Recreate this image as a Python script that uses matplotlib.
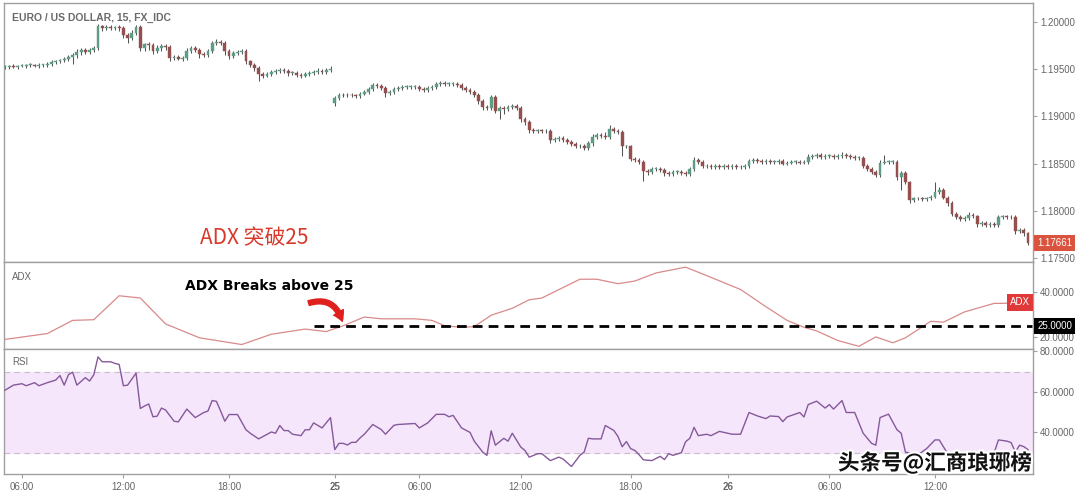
import numpy as np
import matplotlib.pyplot as plt
import matplotlib.transforms as mtrans
import matplotlib.patheffects as pe
from matplotlib.patches import FancyArrowPatch

plt.rcParams['font.family'] = ['Liberation Sans', 'Noto Sans CJK SC', 'DejaVu Sans']

# ---- EURUSD 15 min candles, prices in pips above 1.17000 ----
first_open = 252
gap_bar = 78          # weekly open gap (25th)
gap_open = 214
closes_pips = [
    252, 253, 252, 253, 253, 254, 254, 253, 254, 254,
    255, 257, 258, 259, 261, 263, 265, 268, 270, 268,
    270, 272, 295, 293, 294, 293, 294, 293, 286, 283,
    288, 294, 272, 276, 275, 269, 272, 274, 273, 262,
    263, 261, 262, 269, 272, 270, 266, 265, 269, 277,
    279, 278, 269, 264, 267, 268, 269, 258, 254, 251,
    245, 243, 245, 247, 248, 249, 248, 246, 246, 244,
    243, 245, 246, 247, 248, 247, 249, 250, 219, 223,
    222, 223, 222, 221, 224, 226, 229, 233, 232, 230,
    225, 226, 229, 230, 231, 231, 231, 231, 229, 228,
    230, 231, 234, 235, 234, 234, 234, 233, 230, 228,
    226, 223, 216, 210, 209, 220, 206, 209, 208, 210,
    211, 209, 197, 194, 185, 184, 185, 184, 184, 175,
    176, 177, 175, 173, 171, 168, 169, 166, 172, 178,
    180, 179, 178, 186, 184, 183, 168, 168, 155, 154,
    152, 142, 141, 144, 144, 143, 140, 139, 141, 141,
    140, 139, 144, 154, 152, 147, 147, 146, 147, 146,
    147, 146, 147, 146, 146, 147, 153, 154, 153, 152,
    153, 152, 152, 153, 150, 151, 152, 152, 151, 152,
    157, 158, 159, 157, 158, 158, 157, 158, 159, 158,
    157, 156, 156, 147, 144, 141, 138, 151, 152, 152,
    152, 136, 140, 130, 111, 113, 113, 112, 113, 115,
    120, 122, 114, 108, 97, 93, 91, 92, 96, 94,
    86, 87, 85, 86, 85, 93, 94, 93, 93, 79,
    80, 76, 66,
]
wick_hi = [
    2, 1, 2, 1, 2, 1, 2, 1, 2, 1,  2, 2, 1, 2, 2, 2, 2, 3, 2, 2,
    2, 2, 3, 2, 2, 2, 1, 2, 2, 2,  3, 3, 2, 2, 3, 2, 3, 2, 2, 2,
    2, 2, 2, 3, 2, 2, 2, 2, 2, 3,  3, 2, 2, 2, 2, 2, 2, 2, 2, 2,
    2, 2, 2, 2, 2, 2, 2, 2, 2, 2,  2, 2, 2, 2, 3, 2, 2, 3, 2, 2,
    2, 2, 2, 2, 2, 2, 2, 2, 2, 2,  2, 2, 2, 2, 2, 2, 2, 2, 2, 2,
    2, 2, 2, 2, 2, 2, 2, 2, 2, 2,  2, 2, 2, 2, 2, 3, 2, 2, 2, 2,
    2, 2, 2, 2, 2, 3, 2, 2, 2, 2,  2, 2, 2, 2, 2, 2, 2, 2, 2, 3,
    2, 2, 4, 5, 3, 2, 2, 2, 2, 2,  2, 2, 2, 2, 2, 2, 2, 2, 2, 2,
    2, 2, 2, 3, 2, 2, 2, 2, 2, 2,  2, 2, 2, 2, 2, 2, 2, 2, 2, 2,
    2, 2, 2, 2, 2, 2, 2, 2, 2, 2,  3, 2, 2, 2, 2, 2, 2, 2, 3, 2,
    2, 2, 2, 2, 2, 2, 2, 3, 7, 2,  2, 2, 2, 2, 2, 2, 2, 2, 2, 2,
    10, 3, 2, 2, 2, 2, 2, 2, 3, 2, 2, 2, 2, 2, 2, 3, 2, 2, 2, 2,
    2, 2, 2,
]
wick_lo = [
    2, 2, 1, 2, 1, 2, 2, 1, 2, 2,  2, 2, 2, 2, 2, 3, 8, 3, 3, 2,
    2, 2, 2, 3, 2, 2, 2, 3, 3, 5,  2, 2, 3, 3, 5, 3, 2, 3, 3, 4,
    3, 2, 3, 2, 2, 2, 4, 2, 2, 2,  2, 3, 4, 3, 2, 2, 2, 3, 2, 3,
    8, 3, 2, 2, 2, 2, 2, 3, 2, 2,  3, 2, 2, 2, 2, 2, 2, 2, 3, 2,
    2, 2, 2, 2, 2, 2, 2, 2, 2, 2,  5, 2, 2, 2, 2, 2, 2, 2, 2, 2,
    2, 2, 2, 2, 2, 2, 2, 2, 2, 2,  2, 3, 3, 3, 2, 2, 3, 9, 6, 2,
    2, 2, 3, 3, 3, 2, 2, 2, 2, 3,  2, 2, 2, 2, 2, 2, 2, 2, 2, 3,
    2, 2, 2, 2, 2, 2, 10, 2, 2, 2, 2, 10, 3, 2, 2, 2, 3, 2, 2, 2,
    2, 2, 2, 2, 2, 2, 2, 2, 2, 2,  2, 2, 2, 2, 2, 2, 2, 2, 2, 2,
    2, 2, 2, 2, 2, 2, 2, 2, 2, 2,  2, 2, 2, 2, 2, 2, 2, 2, 2, 2,
    2, 2, 2, 2, 2, 2, 2, 2, 2, 2,  2, 3, 14, 2, 3, 2, 2, 2, 2, 2,
    2, 2, 2, 3, 3, 2, 2, 2, 2, 2,  3, 2, 2, 2, 2, 2, 2, 2, 2, 4,
    2, 3, 2,
]
last_price = 1.17661

# ---- ADX (bar, value) ----
adx_bars = [0, 10, 16, 21, 27, 32, 38, 46, 56, 63, 71, 76, 80, 85, 89, 97,
            101, 104, 108, 111, 115, 120, 124, 127, 136, 140, 145, 149, 154,
            161, 166, 174, 180, 185, 189, 192, 197, 202, 206, 210, 213, 219,
            222, 227, 234, 236, 242]
adx_vals = [18.9, 21.5, 27.4, 27.7, 38.4, 37.4, 25.8, 19.6, 16.6, 21.2, 23.5,
            22.4, 25.0, 28.9, 28.1, 28.1, 27.4, 25.0, 24.3, 24.6, 29.7, 32.8,
            36.6, 37.4, 45.8, 45.8, 43.8, 45.0, 48.6, 51.2, 47.4, 41.2, 33.5,
            27.4, 24.3, 22.7, 18.4, 15.8, 20.0, 17.4, 19.6, 27.0, 26.6, 31.2,
            35.0, 35.0, 35.5]
adx_level = 25
adx_level_start = 73

# ---- RSI (bar, value) ----
rsi_bars = [0, 2, 4, 5, 7, 8, 10, 12, 13, 14, 15, 16, 17, 19, 20, 21, 22, 23,
            25, 26, 27, 28, 29, 31, 32, 33, 34, 35, 36, 37, 38, 40, 41, 43, 45,
            47, 48, 49, 50, 51, 52, 53, 55, 57, 58, 60, 63, 64, 65, 66, 67, 68,
            70, 71, 72, 73, 75, 77, 78, 79, 80, 81, 82, 83, 84, 85, 87, 89, 90,
            92, 93, 97, 98, 100, 102, 104, 105, 106, 108, 110, 111, 113, 114,
            115, 116, 118, 119, 120, 122, 123, 124, 126, 127, 129, 131, 132,
            134, 136, 137, 138, 139, 141, 142, 143, 144, 145, 146, 147, 148,
            149, 150, 151, 153, 155, 156, 157, 158, 160, 161, 162, 163, 164,
            166, 167, 169, 172, 174, 176, 178, 180, 181, 183, 184, 185, 188,
            189, 190, 192, 194, 195, 196, 198, 199, 201, 203, 205, 206, 207,
            209, 211, 212, 213, 216, 218, 220, 221, 223, 227, 231, 234, 235,
            237, 238, 239, 240, 241, 242]
rsi_vals = [60.8, 63.3, 64.0, 63.0, 64.5, 63.0, 64.5, 65.8, 68.0, 63.3, 68.4,
            69.7, 63.3, 67.0, 65.3, 68.4, 77.2, 74.8, 74.8, 74.0, 73.5, 63.0,
            63.3, 69.2, 51.8, 53.0, 54.0, 47.7, 48.0, 52.0, 51.0, 45.5, 45.2,
            51.5, 47.3, 49.8, 50.5, 55.7, 55.3, 50.6, 45.5, 48.8, 48.8, 41.3,
            39.6, 36.8, 40.2, 39.6, 43.4, 40.9, 40.9, 39.1, 38.4, 41.3, 41.3,
            44.7, 42.2, 47.3, 31.5, 34.6, 34.6, 33.8, 35.1, 35.1, 37.3, 39.1,
            43.9, 41.4, 39.1, 43.5, 43.9, 44.4, 42.2, 44.7, 48.9, 48.9, 47.7,
            48.4, 42.2, 40.0, 35.7, 30.3, 28.7, 40.8, 33.7, 37.1, 35.7, 39.6,
            32.8, 31.1, 27.8, 29.5, 29.5, 26.1, 27.8, 26.9, 23.2, 28.7, 30.3,
            37.1, 36.8, 36.8, 43.4, 42.2, 41.0, 38.0, 32.9, 35.5, 32.0, 31.1,
            29.0, 26.5, 26.1, 28.2, 26.6, 29.5, 28.7, 30.0, 35.4, 37.1, 42.5,
            38.4, 39.1, 38.4, 40.5, 39.1, 39.1, 49.8, 48.1, 46.8, 48.1, 47.8,
            45.3, 47.6, 49.8, 47.6, 53.7, 55.4, 52.0, 53.7, 51.5, 55.7, 49.8,
            49.8, 39.6, 34.6, 33.7, 47.3, 49.0, 41.3, 39.6, 30.3, 29.0, 32.0,
            36.3, 36.3, 29.5, 26.0, 25.0, 30.0, 36.3, 35.7, 35.0, 30.3, 33.7,
            33.0, 31.5]
rsi_upper, rsi_lower = 70, 30

# ---- time axis ----
tick_bars = [4, 28, 53, 78, 98, 122, 148, 171, 195, 220]
tick_labels = ['06:00', '12:00', '18:00', '25', '06:00', '12:00', '18:00', '26', '06:00', '12:00']

# build OHLC (forex bars open at the previous close, except the weekly gap)
c = np.array(closes_pips, dtype=float)
o = np.concatenate([[first_open], c[:-1]])
o[gap_bar] = gap_open
hi = np.maximum(o, c) + np.array(wick_hi)
lo = np.minimum(o, c) - np.array(wick_lo)
to_price = lambda p: 1.17 + np.asarray(p) / 10000.0
x = np.arange(len(c))

UP, DOWN, WICK = '#5e9c86', '#94504e', '#555555'
GRID = '#a0a0a0'
TXT = '#666666'

fig = plt.figure(figsize=(10.8, 4.91), dpi=100)
L, W = 4 / 1080, 1029 / 1080
ax = fig.add_axes([L, 1 - 262 / 491, W, 259 / 491])
ax2 = fig.add_axes([L, 1 - 349 / 491, W, 87 / 491])
ax3 = fig.add_axes([L, 1 - 474 / 491, W, 125 / 491])

for a in (ax, ax2, ax3):
    a.set_xlim(-0.24, 243.18)
    a.yaxis.tick_right()
    a.tick_params(axis='y', colors=GRID, labelcolor=TXT, labelsize=7, length=3, width=0.8, pad=2)
    a.tick_params(axis='x', length=0)
    for s in a.spines.values():
        s.set_color(GRID)
        s.set_linewidth(1)
    a.set_facecolor('white')

# candles
cols = [UP if cc >= oo else DOWN for oo, cc in zip(o, c)]
ax.vlines(x, to_price(lo), to_price(hi), color=WICK, lw=0.75, zorder=2)
body_h = np.maximum(np.abs(c - o), 0.8) / 10000.0
ax.bar(x, body_h, bottom=to_price(np.minimum(o, c)), width=0.66, color=cols,
       edgecolor=cols, linewidth=0.3, zorder=3)
ax.set_ylim(1.17458, 1.20198)
ax.set_yticks([1.175, 1.18, 1.185, 1.19, 1.195, 1.20])
ax.set_yticklabels(['%.5f' % v for v in [1.175, 1.18, 1.185, 1.19, 1.195, 1.20]])
ax.set_xticks([])

bl = mtrans.blended_transform_factory(ax.transAxes, ax.transData)
ax.text(1.004, last_price, '%.5f' % last_price, transform=bl, ha='left', va='center',
        color='white', fontsize=7, clip_on=False, zorder=10,
        bbox=dict(boxstyle='square,pad=0.3', fc='#d9533e', ec='none'))

# ADX
ax2.plot(adx_bars, adx_vals, color='#d98a8a', lw=0.9)
ax2.hlines(adx_level, adx_level_start, 243, colors='black', linestyles=(0, (3.5, 2.2)), lw=2.0)
ax2.set_ylim(14.6, 53.5)
ax2.set_yticks([20, 40])
ax2.set_yticklabels(['20.0000', '40.0000'])
ax2.set_xticks([])
bl2 = mtrans.blended_transform_factory(ax2.transAxes, ax2.transData)
ax2.text(1.004, adx_level, '25.0000', transform=bl2, ha='left', va='center', color='white',
         fontsize=7, clip_on=False, zorder=10,
         bbox=dict(boxstyle='square,pad=0.3', fc='black', ec='none'))
ax2.text(0.997, adx_vals[-1], 'ADX', transform=bl2, ha='right', va='center', color='white',
         fontsize=7, zorder=10, bbox=dict(boxstyle='square,pad=0.35', fc='#e0393a', ec='none'))

# RSI
ax3.axhspan(rsi_lower, rsi_upper, color='#f5e6fb', zorder=0)
for lv in (rsi_lower, rsi_upper):
    ax3.axhline(lv, color='#c9bccd', lw=0.8, ls=(0, (5, 4)), zorder=1)
ax3.plot(rsi_bars, rsi_vals, color='#85599a', lw=1.0, zorder=3)
ax3.set_ylim(19.5, 81.1)
ax3.set_yticks([40, 60, 80])
ax3.set_yticklabels(['40.0000', '60.0000', '80.0000'])
ax3.set_xticks(tick_bars)
ax3.set_xticklabels(tick_labels)
ax3.tick_params(axis='x', colors=GRID, labelcolor=TXT, labelsize=7, length=3, pad=3)
for lab in ax3.get_xticklabels():
    if lab.get_text() in ('25', '26'):
        lab.set_fontweight('bold')

# texts
fig.text(12 / 1080, 1 - 18 / 491, 'EURO / US DOLLAR, 15, FX_IDC', fontsize=7.5,
         fontweight='bold', color='#6a6a6a', va='center', ha='left')
fig.text(12 / 1080, 1 - 277 / 491, 'ADX', fontsize=7, color=TXT, va='center')
fig.text(12 / 1080, 1 - 362 / 491, 'RSI', fontsize=7, color=TXT, va='center')
fig.text(200 / 1080, 1 - 238 / 491, 'ADX 突破25', fontsize=15, color='#d8392b',
         va='center', ha='left', family=['Noto Sans CJK SC', 'DejaVu Sans'])
fig.text(185 / 1080, 1 - 286 / 491, 'ADX Breaks above 25', fontsize=10, fontweight='bold',
         color='black', va='center', ha='left', family=['DejaVu Sans'])

arr = FancyArrowPatch((306 / 1080, 1 - 304 / 491), (343 / 1080, 1 - 324 / 491),
                      transform=fig.transFigure, connectionstyle='arc3,rad=-0.55',
                      arrowstyle='simple,head_length=7,head_width=8,tail_width=3.5',
                      color='#e0201c', zorder=20)
fig.patches.append(arr)

fig.text(838 / 1080, 1 - 463 / 491, '头条号@汇商琅琊榜', fontsize=15.5, color='#111111',
         fontweight='bold', va='center', ha='left',
         family=['Noto Sans CJK SC', 'DejaVu Sans'], zorder=30,
         path_effects=[pe.withStroke(linewidth=3, foreground='white')])

fig.savefig('out.png', dpi=100, facecolor='white')
